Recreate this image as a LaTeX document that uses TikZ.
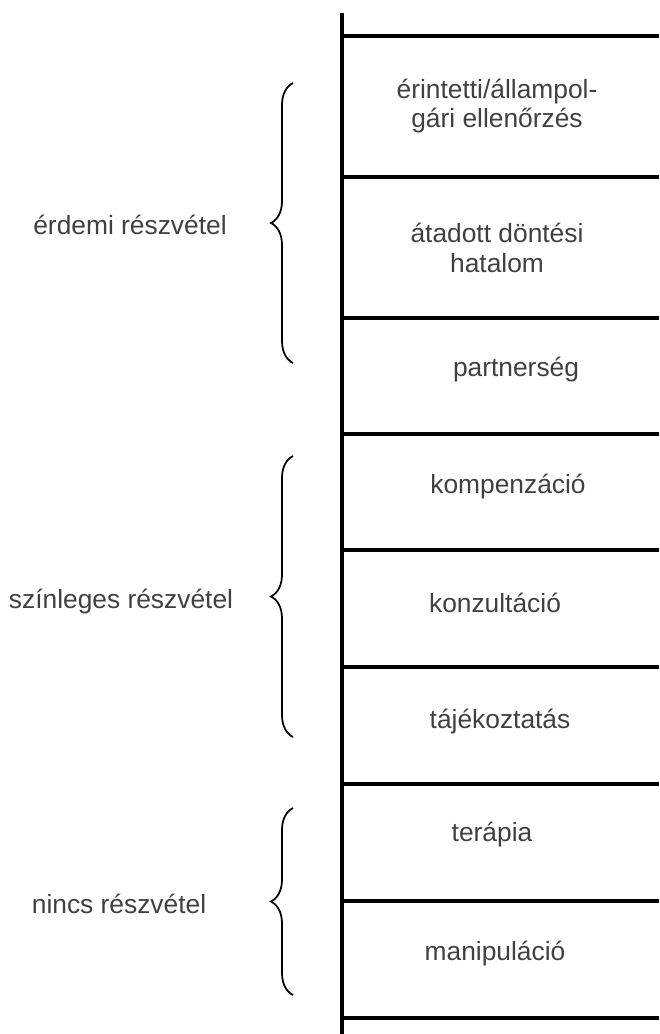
\documentclass[tikz,border=0pt]{standalone}
\usepackage{fontspec}
\setmainfont{Liberation Sans}
\usepackage{xcolor}
\usetikzlibrary{decorations.pathreplacing}
\definecolor{labelgray}{RGB}{64,64,64}

\begin{document}
\begin{tikzpicture}[
    x=0.02cm, y=-0.02cm,
    rail/.style={line width=2.1pt, black},
    rung/.style={line width=2.1pt, black},
    level/.style={font=\fontsize{15}{17}\selectfont, text=labelgray, align=center, inner sep=0pt},
    group/.style={font=\fontsize{15}{17}\selectfont, text=labelgray, inner sep=0pt, anchor=base},
    bracket/.style={decorate, decoration={brace, amplitude=0.44cm}, line width=1pt}
]
\useasboundingbox (0,0) rectangle (659,1034);

% Ladder
\coordinate (railtop) at (342,13);
\coordinate (railbottom) at (342,1034);
\draw[rail] (railtop) -- (railbottom);
\foreach \y in {36,177,318,434,550,667,784,901,1018}
    \draw[rung] (342,\y) -- (659,\y);

% Rungs
\node[level] (control) at (497,106) {érintetti/állampol-\\gári ellenőrzés};
\node[level] (delegated) at (497,248) {átadott döntési\\hatalom};
\node[level, anchor=base] (partnership) at (516,376) {partnerség};
\node[level, anchor=base] (placation) at (508,493) {kompenzáció};
\node[level, anchor=base] (consultation) at (495,612) {konzultáció};
\node[level, anchor=base] (informing) at (500,728) {tájékoztatás};
\node[level, anchor=base] (therapy) at (492,841) {terápia};
\node[level, anchor=base] (manipulation) at (495,960) {manipuláció};

% Groups
\node[group] (citizen) at (130,234) {érdemi részvétel};
\node[group] (token) at (121,608) {színleges részvétel};
\node[group] (nonpart) at (119,913) {nincs részvétel};

% Braces
\coordinate (citizenlow) at (293,363);
\coordinate (citizenhigh) at (293,83);
\coordinate (tokenlow) at (293,737);
\coordinate (tokenhigh) at (293,456);
\coordinate (nonpartlow) at (293,995);
\coordinate (nonparthigh) at (293,808);
\draw[bracket] (citizenlow) -- (citizenhigh);
\draw[bracket] (tokenlow) -- (tokenhigh);
\draw[bracket] (nonpartlow) -- (nonparthigh);

\end{tikzpicture}
\end{document}
